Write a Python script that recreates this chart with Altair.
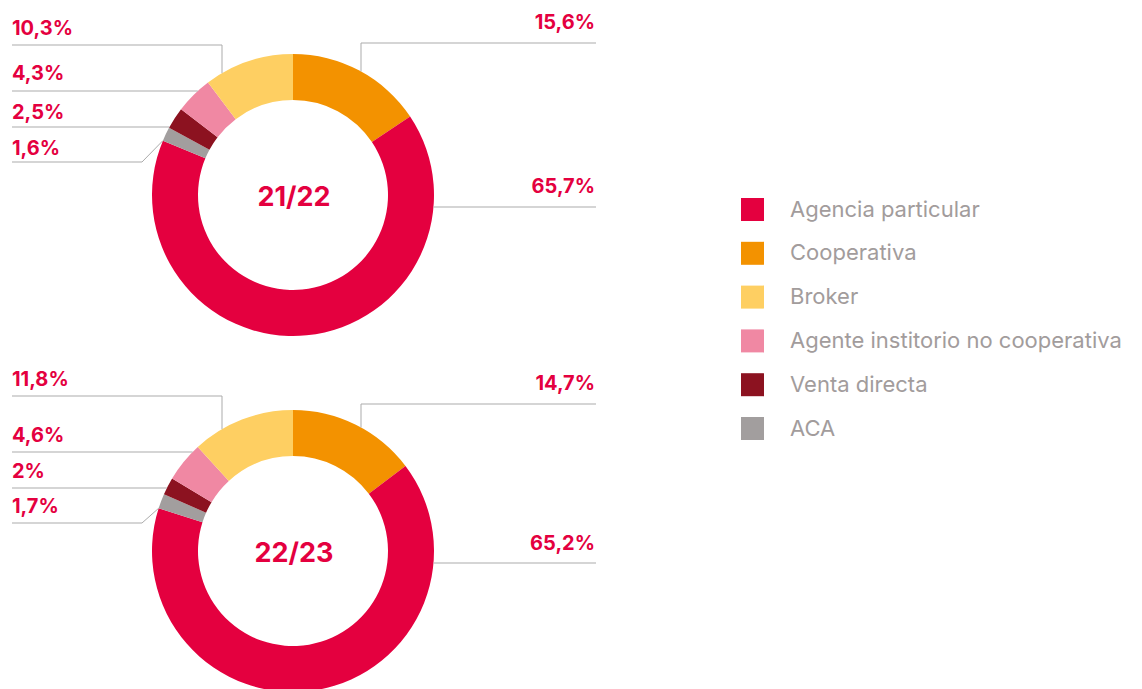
import math
import altair as alt
import pandas as pd

# ---------------- data ----------------
categories = ["Agencia particular", "Cooperativa", "Broker",
              "Agente institorio no cooperativa", "Venta directa", "ACA"]
colors = ["#E4003F", "#F39200", "#FECF62", "#F088A3", "#8C1220", "#A29E9E"]
years = ["21/22", "22/23"]
values_2122 = [65.7, 15.6, 10.3, 4.3, 2.5, 1.6]
values_2223 = [65.2, 14.7, 11.8, 4.6, 2.0, 1.7]
# clockwise order of the slices, starting at 12 o'clock
clockwise = ["Cooperativa", "Agencia particular", "ACA", "Venta directa",
             "Agente institorio no cooperativa", "Broker"]

# ---------------- layout (pixels) ----------------
R_OUT, R_IN = 141, 95
centers = [(293, 195), (293, 551)]
LEFT_X, RIGHT_X = 12, 596
# label baselines / leader-line heights, per donut, in categories order
text_y = [[193, 29, 35, 80, 119, 155], [550, 390, 386, 442, 478, 513]]
line_y = [[207, 43, 45, 91, 127, 162], [563, 404, 396, 452, 488, 523]]
leader = {
    "Cooperativa": ("right", "vertical", 68),
    "Agencia particular": ("right", "horizontal", 0),
    "Broker": ("left", "vertical", -71),
    "Agente institorio no cooperativa": ("left", "horizontal", 0),
    "Venta directa": ("left", "horizontal", 0),
    "ACA": ("left", "diagonal", -151),
}

TEXT_RED = "#E4003F"
LINE_GREY = "#ABABAB"
FONT = "Inter"

arc_rows, seg_rows, lab_rows, center_rows = [], [], [], []
for d, vals in enumerate([values_2122, values_2223]):
    cx, cy = centers[d]
    vmap = dict(zip(categories, vals))
    cum = 0.0
    starts = {}
    for c in clockwise:
        starts[c] = cum
        arc_rows.append(dict(cat=c, t0=cum, t1=cum + vmap[c], cx=cx, cy=cy))
        cum += vmap[c]
    center_rows.append(dict(x=cx + 1, y=cy + 11, text=years[d]))
    for i, c in enumerate(categories):
        side, kind, kdx = leader[c]
        ly = line_y[d][i]
        outer = LEFT_X if side == "left" else RIGHT_X
        sgn = -1 if side == "left" else 1
        if kind == "horizontal":
            xe = cx + sgn * math.sqrt(R_OUT ** 2 - (ly - cy) ** 2)
            seg_rows.append(dict(x=outer, y=ly, x2=xe, y2=ly))
        elif kind == "vertical":
            kx = cx + kdx
            ye = cy - math.sqrt(R_OUT ** 2 - kdx ** 2)
            seg_rows.append(dict(x=outer, y=ly, x2=kx, y2=ly))
            seg_rows.append(dict(x=kx, y=ly, x2=kx, y2=ye))
        else:
            kx = cx + kdx
            ang = starts[c] / 100 * 2 * math.pi
            xe = cx + R_OUT * math.sin(ang)
            ye = cy - R_OUT * math.cos(ang)
            seg_rows.append(dict(x=outer, y=ly, x2=kx, y2=ly))
            seg_rows.append(dict(x=kx, y=ly, x2=xe, y2=ye))
        lab = f"{vals[i]:g}".replace(".", ",") + "%"
        lab_rows.append(dict(x=LEFT_X if side == "left" else 595,
                             y=text_y[d][i], text=lab, side=side))

arc_df = pd.DataFrame(arc_rows)
seg_df = pd.DataFrame(seg_rows)
lab_df = pd.DataFrame(lab_rows)
center_df = pd.DataFrame(center_rows)

xs = alt.Scale(domain=[8, 1134], nice=False, zero=False)
ys = alt.Scale(domain=[8, 689], nice=False, zero=False, reverse=True)

arcs = alt.Chart(arc_df).mark_arc(radius=R_OUT, radius2=R_IN).encode(
    x=alt.X("cx:Q", scale=xs, axis=None),
    y=alt.Y("cy:Q", scale=ys, axis=None),
    theta=alt.Theta("t0:Q", scale=alt.Scale(domain=[0, 100], range=[0, 2 * math.pi]), stack=None),
    theta2="t1:Q",
    color=alt.Color("cat:N", scale=alt.Scale(domain=categories, range=colors),
                    legend=alt.Legend(orient="none", legendX=733, legendY=190, title=None,
                                      symbolType="square", symbolSize=529, symbolStrokeWidth=0,
                                      labelFontSize=22, labelFont=FONT, labelColor="#A29C9C",
                                      rowPadding=20.8, labelOffset=26, labelLimit=600, padding=0)),
)

segs = alt.Chart(seg_df).mark_rule(color=LINE_GREY, strokeWidth=1).encode(
    x=alt.X("x:Q", scale=xs, axis=None), y=alt.Y("y:Q", scale=ys, axis=None),
    x2="x2:Q", y2="y2:Q",
)

left_labels = alt.Chart(lab_df[lab_df.side == "left"]).mark_text(
    align="left", baseline="alphabetic", font=FONT, fontWeight="bold", fontSize=20, color=TEXT_RED
).encode(x=alt.X("x:Q", scale=xs, axis=None), y=alt.Y("y:Q", scale=ys, axis=None), text="text:N")

right_labels = alt.Chart(lab_df[lab_df.side == "right"]).mark_text(
    align="right", baseline="alphabetic", font=FONT, fontWeight="bold", fontSize=20, color=TEXT_RED
).encode(x=alt.X("x:Q", scale=xs, axis=None), y=alt.Y("y:Q", scale=ys, axis=None), text="text:N")

center_labels = alt.Chart(center_df).mark_text(
    align="center", baseline="alphabetic", font=FONT, fontWeight="bold", fontSize=27, color=TEXT_RED
).encode(x=alt.X("x:Q", scale=xs, axis=None), y=alt.Y("y:Q", scale=ys, axis=None), text="text:N")

chart = alt.layer(arcs, segs, left_labels, right_labels, center_labels).properties(
    width=1126, height=681, autosize=alt.AutoSizeParams(type="none"), padding=0
).configure_view(stroke=None)

chart.save("out.html", embed_options={"renderer": "svg", "actions": False})
